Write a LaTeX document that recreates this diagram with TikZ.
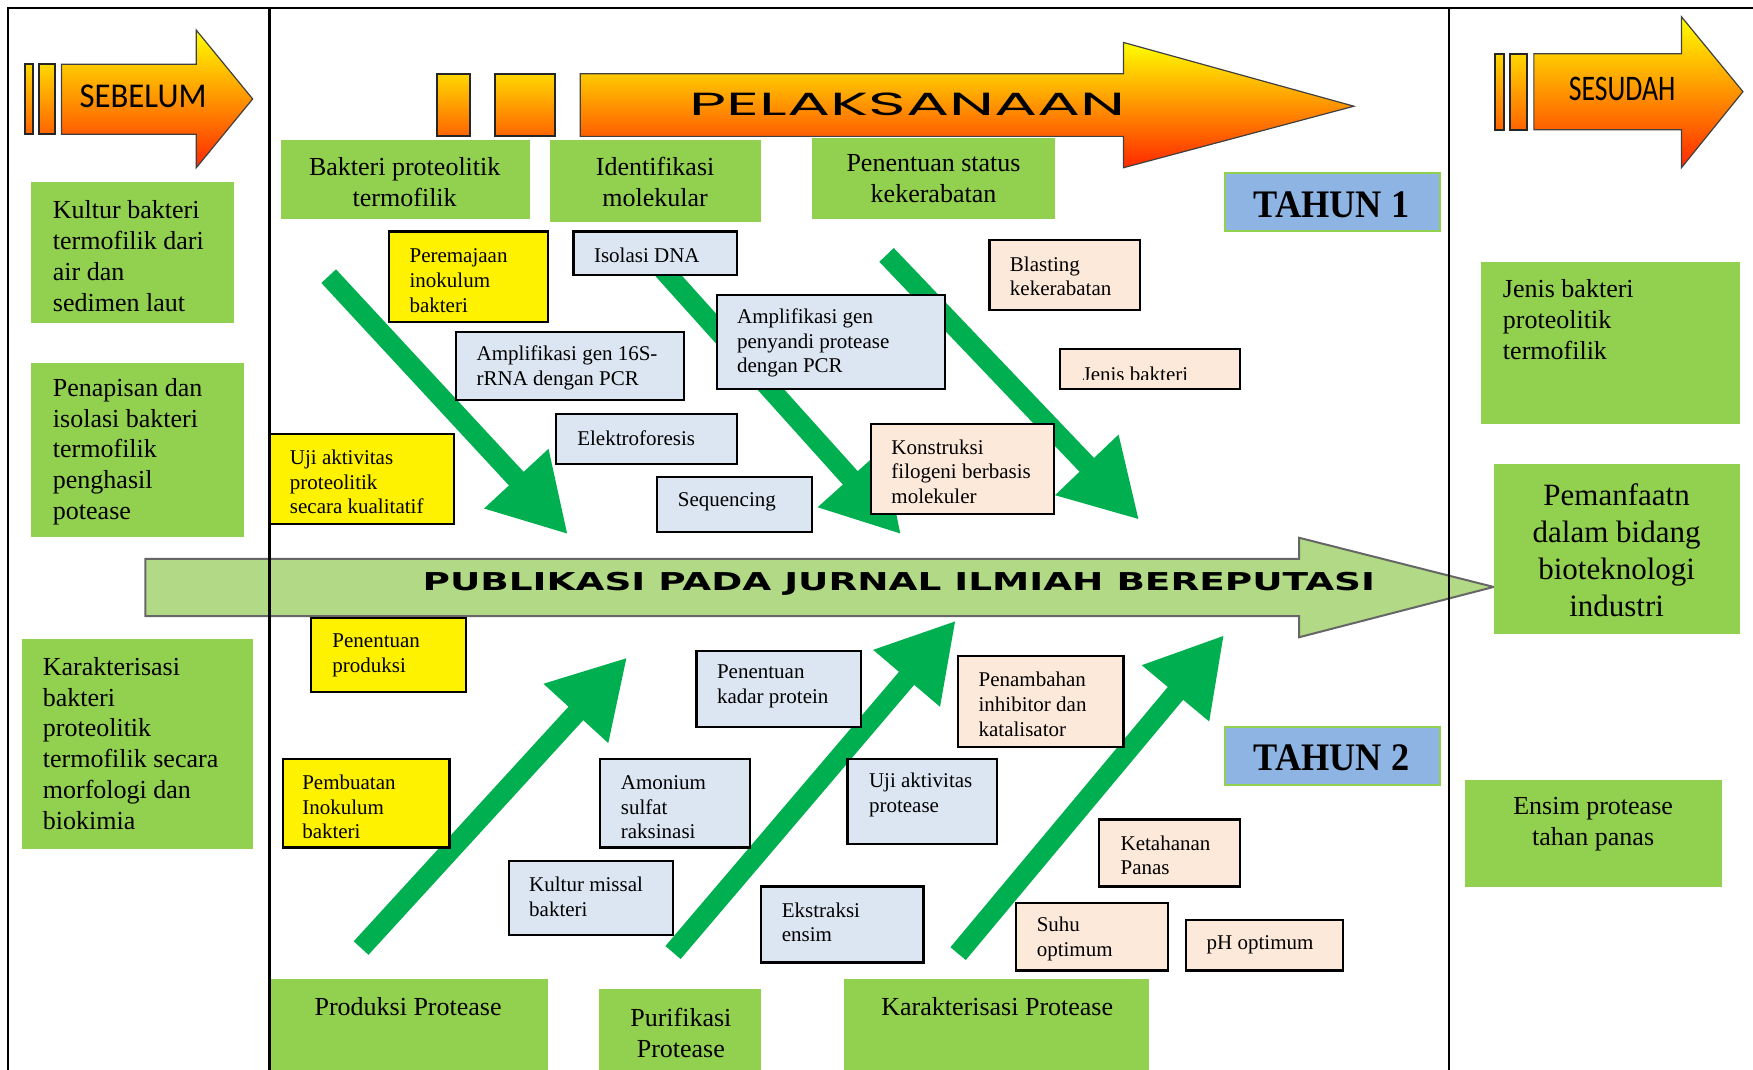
\documentclass[tikz,border=0pt]{standalone}
\usepackage{fontspec}
\usepackage{graphicx}
\setmainfont{Liberation Serif}
\newfontfamily\calib{Carlito}
\newfontfamily\popp{Poppins}
\newfontfamily\dvs{DejaVu Sans}
\usetikzlibrary{arrows.meta}
\definecolor{boxgreen}{RGB}{146,208,80}
\definecolor{arrgreen}{RGB}{0,176,80}
\definecolor{pubgreen}{RGB}{178,218,134}
\definecolor{bluegray}{RGB}{220,230,242}
\definecolor{peach}{RGB}{253,233,217}
\definecolor{tahunblue}{RGB}{142,180,227}
\definecolor{oyellow}{RGB}{255,255,0}
\definecolor{oorange}{RGB}{255,160,0}
\definecolor{ored}{RGB}{255,40,0}
\definecolor{bartop}{RGB}{255,215,0}
\definecolor{barbot}{RGB}{255,100,0}
\begin{document}
\begin{tikzpicture}[x=0.559pt,y=-0.559pt,
  big/.style={font=\fontsize{13}{15.4}\selectfont},
  sm/.style={font=\fontsize{10.5}{12.3}\selectfont},
  lt/.style={anchor=west, align=left, inner sep=0pt},
  ct/.style={anchor=center, align=center, inner sep=0pt},
  gbox/.style={fill=boxgreen},
  ybox/.style={fill=yellow, draw=black, line width=1.1pt},
  bbox/.style={fill=bluegray, draw=black, line width=1.1pt},
  pbox/.style={fill=peach, draw=black, line width=1.1pt},
  tbox/.style={fill=tahunblue, draw=boxgreen, line width=1pt},
  garrow/.style={arrgreen, line width=10pt, -{Triangle[length=38pt,width=41pt]}},
  frameline/.style={line width=1.2pt, black},
  ograd/.style={top color=oyellow, middle color=oorange, bottom color=ored, draw=black!75, line width=0.6pt},
  obar/.style={top color=bartop, bottom color=barbot, draw=black!85, line width=1pt},
]
\useasboundingbox (0,0) rectangle (1568,957);
\fill[white] (0,0) rectangle (1568,957);

% central publication arrow
\path[fill=pubgreen, draw=black!60, line width=1pt]
  (130,500) -- (1162,500) -- (1162,481) -- (1336,525) -- (1162,570) -- (1162,551) -- (130,551) -- cycle;
\node[inner sep=0pt] (pub) at (804,522) {\scalebox{1.52}[1]{\dvs\bfseries\fontsize{12.3}{14}\selectfont PUBLIKASI PADA JURNAL ILMIAH BEREPUTASI}};

% frame
\draw[frameline] (7,957) -- (7,7) -- (1568,7);
\draw[frameline] (241,7) -- (241,957);
\draw[frameline] (1296,7) -- (1296,957);

% SEBELUM arrow
\path[obar] (22.6,57.5) rectangle (29.7,120);
\path[obar] (35,57.5) rectangle (49,120);
\path[ograd] (55,57.5) -- (175.6,57.5) -- (175.6,27) -- (226,88.5) -- (175.6,150) -- (175.6,120) -- (55,120) -- cycle;
\node[inner sep=0pt] (sebelum) at (128,86) {\scalebox{0.94}[1]{\calib\fontsize{17.4}{20}\selectfont SEBELUM}};

% SESUDAH arrow
\path[obar] (1337,48) rectangle (1345,116);
\path[obar] (1351,48) rectangle (1366,116);
\path[ograd] (1372,48) -- (1504,48) -- (1504,15) -- (1559,82) -- (1504,150) -- (1504,116) -- (1372,116) -- cycle;
\node[inner sep=0pt] (sesudah) at (1451,80) {\scalebox{0.77}[1]{\calib\fontsize{18}{20}\selectfont SESUDAH}};

% PELAKSANAAN arrow
\path[obar] (391,66) rectangle (420,122);
\path[obar] (443,66) rectangle (496,122);
\path[ograd] (519,66) -- (1005,66) -- (1005,38) -- (1211,95) -- (1005,150) -- (1005,122) -- (519,122) -- cycle;
\node[inner sep=0pt] (pelaksanaan) at (812,93) {\scalebox{2.0}[1]{\popp\fontsize{16}{18}\selectfont PELAKSANAAN}};

% green arrows
\coordinate (a1s) at (294,247);  \coordinate (a1t) at (508,478);
\coordinate (a2s) at (592,240);  \coordinate (a2t) at (806,478);
\coordinate (a3s) at (793,228);  \coordinate (a3t) at (1019,465);
\coordinate (b1s) at (323,848);  \coordinate (b1t) at (561,588);
\coordinate (b2s) at (602,852);  \coordinate (b2t) at (855,555);
\coordinate (b3s) at (857,853);  \coordinate (b3t) at (1095,568);
\draw[garrow] (a1s) -- (a1t);
\draw[garrow] (a2s) -- (a2t);
\draw[garrow] (a3s) -- (a3t);
\draw[garrow] (b1s) -- (b1t);
\draw[garrow] (b2s) -- (b2t);
\draw[garrow] (b3s) -- (b3t);

% left column
\path[gbox] (28,163) rectangle (209,289);
\node[lt,big] (kultur) at (47,229) {Kultur bakteri\\termofilik dari\\air dan\\sedimen laut};
\path[gbox] (28,325) rectangle (218,480);
\node[lt,big] (penapisan) at (47,404) {Penapisan dan\\isolasi bakteri\\termofilik\\penghasil\\potease};
\path[gbox] (20,572) rectangle (226,759);
\node[lt,big] (karakter) at (38,665) {Karakterisasi\\bakteri\\proteolitik\\termofilik secara\\morfologi dan\\biokimia};

% top headers
\path[gbox] (251,125) rectangle (474,196);
\node[ct,big] (bakteri) at (362,163) {Bakteri proteolitik\\termofilik};
\path[gbox] (492,125) rectangle (681,199);
\node[ct,big] (identifikasi) at (586,163) {Identifikasi\\molekular};
\path[gbox] (726,123) rectangle (944,196);
\node[ct,big] (status) at (835,160) {Penentuan status\\kekerabatan};

% tahun
\path[tbox] (1096,155) rectangle (1288,207);
\node[inner sep=0pt] (tahun1) at (1191,183) {\scalebox{0.93}[1]{\bfseries\fontsize{19.5}{22}\selectfont TAHUN 1}};
\path[tbox] (1096,650) rectangle (1288,702);
\node[inner sep=0pt] (tahun2) at (1191,678) {\scalebox{0.93}[1]{\bfseries\fontsize{19.5}{22}\selectfont TAHUN 2}};

% right column
\path[gbox] (1325,234) rectangle (1556,379);
\node[lt,big] (jenisprot) at (1344,286) {Jenis bakteri\\proteolitik\\termofilik};
\path[gbox] (1336,415) rectangle (1556,567);
\node[ct,font=\fontsize{15.5}{18.4}\selectfont] (pemanfaatan) at (1446,492) {Pemanfaatn\\dalam bidang\\bioteknologi\\industri};
\path[gbox] (1310,698) rectangle (1540,793);
\node[ct,big] (ensim) at (1425,737) {Ensim protease\\tahan panas};

% bottom headers
\path[gbox] (242,876) rectangle (490,957);
\node[ct,big] (produksi) at (365,900) {Produksi Protease};
\path[gbox] (536,885) rectangle (681,957);
\node[ct,big] (purifikasi) at (609,924) {Purifikasi\\Protease};
\path[gbox] (755,876) rectangle (1028,957);
\node[ct,big] (karprot) at (892,900) {Karakterisasi Protease};

% yellow boxes
\path[ybox] (348,207) rectangle (490,288);
\node[lt,sm] (peremajaan) at (366,251) {Peremajaan\\inokulum\\bakteri};
\path[ybox] (241,388) rectangle (406,469);
\node[lt,sm] (ujiprot) at (259,431) {Uji aktivitas\\proteolitik\\secara kualitatif};
\path[ybox] (278,553) rectangle (417,619);
\node[lt,sm] (penproduksi) at (297,586) {Penentuan\\produksi};
\path[ybox] (253,679) rectangle (402,758);
\node[lt,sm] (pembuatan) at (270,722) {Pembuatan\\Inokulum\\bakteri};

% blue-gray boxes
\path[bbox] (513,207) rectangle (659,246);
\node[lt,sm] (isolasi) at (531,228) {Isolasi DNA};
\path[bbox] (408,297) rectangle (612,358);
\node[lt,sm] (amp16s) at (426,329) {Amplifikasi gen 16S-\\rRNA dengan PCR};
\path[bbox] (497,370) rectangle (659,415);
\node[lt,sm] (elektro) at (516,392) {Elektroforesis};
\path[bbox] (588,427) rectangle (726,476);
\node[lt,sm] (sequencing) at (606,449) {Sequencing};
\path[bbox] (641,264) rectangle (845,348);
\node[lt,sm] (amppenyandi) at (659,307) {Amplifikasi gen\\penyandi protease\\dengan PCR};
\path[bbox] (623,582) rectangle (770,650);
\node[lt,sm] (kadar) at (641,614) {Penentuan\\kadar protein};
\path[bbox] (537,679) rectangle (671,758);
\node[lt,sm] (amonium) at (555,722) {Amonium\\sulfat\\raksinasi};
\path[bbox] (758,679) rectangle (892,755);
\node[lt,sm] (ujiprotease) at (777,711) {Uji aktivitas\\protease};
\path[bbox] (455,770) rectangle (602,836);
\node[lt,sm] (kulturmissal) at (473,802) {Kultur missal\\bakteri};
\path[bbox] (681,793) rectangle (826,861);
\node[lt,sm] (ekstraksi) at (699,825) {Ekstraksi\\ensim};

% peach boxes
\path[pbox] (885,215) rectangle (1020,277);
\node[lt,sm] (blasting) at (903,247) {Blasting\\kekerabatan};
\path[pbox] (948,312) rectangle (1109,348);
\begin{scope}
  \clip (949,313) rectangle (1108,339.5);
  \node[sm, anchor=base west, inner sep=0pt] (jenisbakteri) at (968,341) {Jenis bakteri};
\end{scope}
\path[pbox] (779,379) rectangle (943,460);
\node[lt,sm] (konstruksi) at (797,422) {Konstruksi\\filogeni berbasis\\molekuler};
\path[pbox] (857,587) rectangle (1005,668);
\node[lt,sm] (penambahan) at (875,630) {Penambahan\\inhibitor dan\\katalisator};
\path[pbox] (983,733) rectangle (1109,793);
\node[lt,sm] (ketahanan) at (1002,765) {Ketahanan\\Panas};
\path[pbox] (909,808) rectangle (1045,868);
\node[lt,sm] (suhu) at (927,840) {Suhu\\optimum};
\path[pbox] (1061,823) rectangle (1201,868);
\node[lt,sm] (ph) at (1079,845) {pH optimum};
\end{tikzpicture}
\end{document}
